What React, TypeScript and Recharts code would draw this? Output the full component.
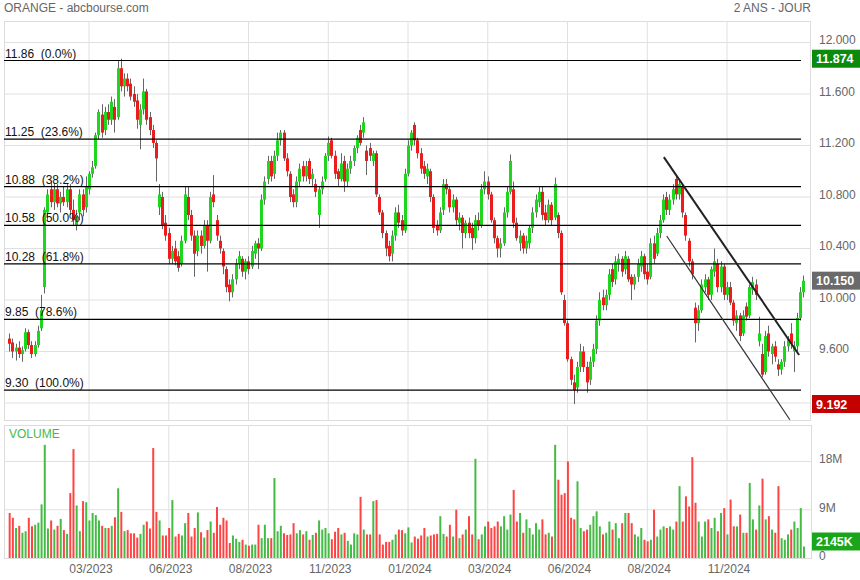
import React from "react";
import {
  ComposedChart,
  Bar,
  XAxis,
  YAxis,
  CartesianGrid,
  ReferenceLine,
  Cell,
} from "recharts";

const FONT = '"Liberation Sans", Arial, sans-serif';
const GREEN = "#1fd61f";
const RED = "#ec1c1c";
const VOL_GREEN = "#44bb44";
const VOL_RED = "#ff4343";
const GRID = "#e0e0e0";

// price series, one candle per two sessions
const opens = [
  9.70, 9.67, 9.60, 9.63, 9.58, 9.62, 9.75, 9.65, 9.58, 9.65,
  9.78, 10.10, 10.68, 10.86, 10.76, 10.86, 10.75, 10.80, 10.76, 10.86,
  10.70, 10.58, 10.68, 10.82, 10.72, 10.86, 10.98, 11.04, 11.28, 11.44,
  11.32, 11.46, 11.40, 11.50, 11.42, 11.80, 11.66, 11.72, 11.68, 11.60,
  11.55, 11.36, 11.48, 11.62, 11.42, 11.32, 11.22, 10.72, 10.80, 10.60,
  10.52, 10.32, 10.40, 10.34, 10.28, 10.46, 10.80, 10.66, 10.50, 10.38,
  10.50, 10.42, 10.58, 10.46, 10.82, 10.62, 10.46, 10.38, 10.24, 10.12,
  10.06, 10.16, 10.28, 10.32, 10.22, 10.30, 10.26, 10.36, 10.44, 10.40,
  10.78, 10.94, 11.08, 10.98, 11.12, 11.24, 11.30, 11.10, 10.98, 10.82,
  10.76, 10.92, 11.04, 10.96, 11.08, 10.94, 10.90, 10.66, 10.86, 10.94,
  11.12, 11.24, 11.12, 11.00, 10.94, 11.08, 10.92, 11.02, 11.08, 11.18,
  11.32, 11.30, 11.16, 11.18, 11.08, 11.14, 10.80, 10.68, 10.52, 10.42,
  10.36, 10.50, 10.68, 10.62, 10.54, 10.98, 11.20, 11.36, 11.24, 11.14,
  11.04, 10.96, 11.00, 10.80, 10.58, 10.54, 10.70, 10.90, 10.86, 10.72,
  10.78, 10.60, 10.64, 10.52, 10.60, 10.56, 10.48, 10.62, 10.58, 10.86,
  10.92, 10.82, 10.62, 10.48, 10.40, 10.44, 10.68, 10.84, 10.86, 10.60,
  10.44, 10.50, 10.40, 10.44, 10.56, 10.68, 10.76, 10.84, 10.68, 10.62,
  10.74, 10.64, 10.66, 10.52, 10.00, 9.82, 9.54, 9.36, 9.32, 9.48,
  9.60, 9.48, 9.38, 9.52, 9.62, 9.84, 10.02, 9.96, 10.04, 10.24,
  10.16, 10.28, 10.32, 10.24, 10.32, 10.18, 10.12, 10.18, 10.26, 10.34,
  10.22, 10.18, 10.44, 10.36, 10.52, 10.62, 10.80, 10.70, 10.78, 10.94,
  10.82, 10.88, 10.66, 10.46, 10.30, 9.94, 9.82, 9.92, 10.10, 10.16,
  10.04, 10.22, 10.28, 10.10, 10.26, 10.04, 10.10, 9.98, 9.82, 9.88,
  9.74, 9.95, 9.88, 10.08, 10.12, 9.68, 9.58, 9.44, 9.74, 9.58,
  9.64, 9.50, 9.46, 9.52, 9.64, 9.74, 9.60, 9.64, 9.86, 10.06,
];

const highs = [
  9.74, 9.70, 9.66, 9.68, 9.64, 9.78, 9.77, 9.68, 9.68, 9.80,
  10.04, 10.72, 10.86, 10.92, 10.90, 10.90, 10.84, 10.88, 10.90, 10.90,
  10.78, 10.70, 10.86, 10.86, 10.96, 11.00, 11.08, 11.30, 11.48, 11.52,
  11.50, 11.52, 11.58, 11.56, 11.86, 11.874, 11.76, 11.76, 11.72, 11.66,
  11.60, 11.52, 11.72, 11.64, 11.46, 11.36, 11.24, 10.90, 10.84, 10.66,
  10.56, 10.42, 10.46, 10.38, 10.50, 10.88, 10.88, 10.70, 10.54, 10.54,
  10.54, 10.62, 10.62, 10.84, 10.97, 10.66, 10.50, 10.40, 10.26, 10.16,
  10.20, 10.32, 10.38, 10.34, 10.32, 10.34, 10.42, 10.46, 10.48, 10.82,
  10.96, 11.12, 11.12, 11.16, 11.30, 11.32, 11.32, 11.14, 11.00, 10.86,
  10.96, 11.06, 11.08, 11.08, 11.10, 11.02, 10.94, 10.88, 10.96, 11.14,
  11.27, 11.26, 11.16, 11.02, 11.14, 11.12, 11.06, 11.12, 11.20, 11.28,
  11.36, 11.42, 11.20, 11.22, 11.16, 11.16, 10.82, 10.70, 10.54, 10.46,
  10.54, 10.72, 10.74, 10.66, 11.02, 11.24, 11.32, 11.38, 11.26, 11.18,
  11.08, 11.06, 11.02, 10.82, 10.62, 10.72, 10.94, 10.94, 10.88, 10.82,
  10.80, 10.68, 10.66, 10.62, 10.64, 10.60, 10.66, 10.68, 10.90, 11.00,
  10.96, 10.84, 10.64, 10.50, 10.48, 10.72, 10.88, 11.13, 10.92, 10.64,
  10.54, 10.52, 10.50, 10.58, 10.72, 10.82, 10.88, 10.88, 10.74, 10.78,
  10.76, 10.95, 10.68, 10.54, 10.04, 9.84, 9.56, 9.42, 9.52, 9.66,
  9.64, 9.52, 9.56, 9.66, 9.88, 10.06, 10.08, 10.08, 10.24, 10.28,
  10.34, 10.36, 10.34, 10.38, 10.34, 10.20, 10.20, 10.32, 10.38, 10.36,
  10.28, 10.48, 10.50, 10.56, 10.66, 10.82, 10.84, 10.82, 10.90, 10.97,
  10.94, 10.90, 10.68, 10.48, 10.32, 9.98, 9.96, 10.16, 10.20, 10.18,
  10.26, 10.40, 10.32, 10.30, 10.28, 10.14, 10.14, 10.00, 9.92, 9.90,
  9.92, 9.98, 10.12, 10.18, 10.16, 9.87, 9.66, 9.76, 9.80, 9.66,
  9.68, 9.54, 9.54, 9.68, 9.72, 9.82, 9.68, 9.90, 10.10, 10.19,
];

const lows = [
  9.60, 9.55, 9.53, 9.55, 9.52, 9.60, 9.62, 9.55, 9.56, 9.63,
  9.76, 10.05, 10.62, 10.72, 10.70, 10.72, 10.68, 10.73, 10.72, 10.66,
  10.58, 10.54, 10.62, 10.65, 10.68, 10.82, 10.95, 11.02, 11.25, 11.26,
  11.28, 11.36, 11.36, 11.30, 11.40, 11.62, 11.58, 11.62, 11.55, 11.50,
  11.33, 11.17, 11.44, 11.36, 11.28, 11.18, 10.92, 10.66, 10.55, 10.46,
  10.28, 10.28, 10.27, 10.22, 10.26, 10.44, 10.62, 10.46, 10.18, 10.34,
  10.36, 10.40, 10.22, 10.44, 10.72, 10.46, 10.36, 10.20, 10.06, 9.99,
  10.02, 10.12, 10.24, 10.18, 10.16, 10.20, 10.24, 10.32, 10.24, 10.38,
  10.74, 10.90, 10.92, 10.94, 11.08, 11.20, 11.08, 10.96, 10.76, 10.72,
  10.72, 10.88, 10.92, 10.92, 10.90, 10.88, 10.80, 10.56, 10.82, 10.92,
  11.08, 11.10, 10.94, 10.88, 10.92, 10.84, 10.88, 10.98, 11.04, 11.14,
  11.20, 11.26, 10.97, 11.08, 11.04, 10.80, 10.66, 10.48, 10.34, 10.30,
  10.30, 10.46, 10.56, 10.50, 10.52, 10.96, 11.16, 11.20, 11.10, 10.98,
  10.94, 10.90, 10.76, 10.52, 10.50, 10.52, 10.66, 10.82, 10.68, 10.68,
  10.58, 10.54, 10.40, 10.48, 10.48, 10.39, 10.44, 10.54, 10.56, 10.82,
  10.78, 10.60, 10.44, 10.33, 10.33, 10.42, 10.64, 10.82, 10.56, 10.46,
  10.38, 10.36, 10.36, 10.40, 10.52, 10.64, 10.72, 10.62, 10.58, 10.60,
  10.58, 10.62, 10.48, 10.04, 9.80, 9.52, 9.34, 9.192, 9.28, 9.44,
  9.44, 9.28, 9.34, 9.48, 9.58, 9.80, 9.92, 9.92, 10.00, 10.10,
  10.12, 10.22, 10.18, 10.20, 10.14, 10.00, 10.08, 10.14, 10.22, 10.16,
  10.12, 10.16, 10.28, 10.34, 10.48, 10.60, 10.66, 10.66, 10.74, 10.78,
  10.78, 10.64, 10.46, 10.26, 10.16, 9.67, 9.76, 9.90, 10.06, 10.00,
  10.00, 10.18, 10.06, 10.06, 10.00, 10.00, 9.96, 9.80, 9.76, 9.68,
  9.72, 9.84, 9.86, 10.04, 10.00, 9.64, 9.40, 9.42, 9.56, 9.50,
  9.52, 9.41, 9.42, 9.48, 9.60, 9.62, 9.44, 9.60, 9.84, 10.02,
];

const closes = [
  9.66, 9.60, 9.63, 9.58, 9.61, 9.75, 9.65, 9.58, 9.65, 9.76,
  9.92, 10.70, 10.82, 10.76, 10.86, 10.75, 10.80, 10.76, 10.86, 10.70,
  10.62, 10.66, 10.82, 10.70, 10.88, 10.98, 11.03, 11.28, 11.46, 11.30,
  11.46, 11.40, 11.54, 11.40, 11.80, 11.66, 11.72, 11.66, 11.58, 11.54,
  11.40, 11.48, 11.62, 11.40, 11.32, 11.22, 11.10, 10.82, 10.58, 10.50,
  10.32, 10.38, 10.30, 10.25, 10.46, 10.82, 10.66, 10.50, 10.36, 10.50,
  10.42, 10.58, 10.46, 10.80, 10.76, 10.50, 10.40, 10.26, 10.10, 10.06,
  10.16, 10.28, 10.34, 10.22, 10.30, 10.24, 10.38, 10.44, 10.40, 10.78,
  10.92, 11.08, 10.96, 11.12, 11.24, 11.30, 11.10, 11.00, 10.80, 10.76,
  10.92, 11.02, 10.96, 11.04, 10.94, 10.98, 10.84, 10.86, 10.92, 11.12,
  11.22, 11.12, 10.98, 10.94, 11.06, 10.92, 11.02, 11.08, 11.18, 11.26,
  11.22, 11.38, 11.08, 11.12, 11.14, 10.82, 10.68, 10.52, 10.40, 10.34,
  10.50, 10.68, 10.60, 10.54, 10.98, 11.20, 11.30, 11.24, 11.14, 11.02,
  10.98, 11.02, 10.80, 10.56, 10.54, 10.68, 10.90, 10.86, 10.72, 10.78,
  10.62, 10.64, 10.52, 10.60, 10.52, 10.48, 10.62, 10.58, 10.86, 10.92,
  10.82, 10.62, 10.48, 10.40, 10.44, 10.68, 10.84, 11.08, 10.60, 10.48,
  10.50, 10.40, 10.46, 10.56, 10.68, 10.78, 10.84, 10.66, 10.62, 10.74,
  10.62, 10.90, 10.52, 10.06, 9.82, 9.54, 9.38, 9.30, 9.48, 9.60,
  9.48, 9.36, 9.52, 9.62, 9.84, 10.00, 9.96, 10.04, 10.20, 10.14,
  10.30, 10.32, 10.22, 10.34, 10.16, 10.12, 10.18, 10.28, 10.34, 10.20,
  10.16, 10.44, 10.32, 10.52, 10.62, 10.78, 10.70, 10.78, 10.86, 10.82,
  10.90, 10.68, 10.50, 10.30, 10.20, 9.82, 9.92, 10.12, 10.16, 10.04,
  10.24, 10.30, 10.10, 10.26, 10.04, 10.10, 9.98, 9.84, 9.88, 9.72,
  9.88, 9.87, 10.10, 10.14, 10.04, 9.74, 9.42, 9.72, 9.60, 9.64,
  9.56, 9.46, 9.52, 9.64, 9.70, 9.66, 9.64, 9.86, 10.06, 10.15,
];

// volume in millions of shares
const volumes = [
  8.4, 7.5, 5.6, 6.0, 4.7, 5.0, 7.5, 5.9, 6.2, 6.6,
  10.0, 21.1, 5.5, 7.0, 5.3, 6.0, 7.3, 5.2, 4.5, 12.1,
  20.3, 9.8, 5.0, 10.6, 10.4, 7.0, 8.4, 8.0, 7.0, 6.0,
  5.6, 5.6, 6.0, 7.6, 13.0, 8.6, 5.0, 5.2, 4.6, 4.6,
  3.8, 4.5, 6.2, 6.8, 5.5, 20.5, 8.6, 7.0, 4.2, 4.2,
  5.6, 10.8, 4.0, 4.5, 4.2, 6.5, 8.4, 4.0, 5.6, 8.5,
  4.8, 3.8, 5.2, 6.8, 4.7, 9.5, 6.2, 7.5, 7.0, 2.8,
  4.2, 3.6, 3.0, 3.4, 2.5, 2.3, 2.5, 2.5, 6.2, 3.7,
  6.2, 3.7, 3.7, 14.9, 5.0, 6.0, 4.6, 4.3, 4.4, 6.5,
  4.6, 5.2, 4.4, 5.0, 3.4, 4.3, 4.7, 7.0, 5.3, 5.6,
  4.6, 3.5, 4.9, 5.6, 4.4, 4.7, 3.2, 2.5, 4.6, 4.4,
  11.4, 5.3, 4.4, 4.4, 10.6, 10.8, 4.4, 2.5, 3.0, 3.0,
  3.4, 4.4, 5.3, 5.2, 4.6, 5.7, 2.9, 4.0, 3.6, 4.2,
  5.6, 4.0, 4.2, 4.4, 4.5, 7.8, 4.5, 4.0, 6.2, 4.0,
  9.0, 3.7, 4.4, 5.3, 7.8, 4.4, 18.5, 3.5, 4.4, 5.9,
  6.8, 5.6, 5.9, 6.8, 5.9, 7.8, 5.3, 8.1, 12.7, 6.8,
  8.4, 4.7, 7.2, 5.6, 4.4, 6.5, 5.3, 7.2, 4.4, 4.7,
  4.0, 21.1, 14.6, 11.8, 12.1, 18.0, 7.5, 7.2, 14.3, 5.6,
  5.0, 5.3, 6.2, 7.8, 8.7, 5.9, 4.4, 4.7, 6.8, 5.3,
  6.5, 3.7, 6.5, 8.4, 8.4, 6.5, 4.4, 4.0, 5.6, 3.4,
  3.1, 3.4, 9.0, 4.0, 5.3, 5.9, 5.6, 5.9, 5.3, 6.8,
  13.4, 6.8, 11.5, 9.6, 18.8, 10.3, 6.8, 4.0, 6.8, 7.2,
  5.6, 7.5, 5.0, 8.4, 9.3, 4.4, 10.9, 5.9, 5.9, 8.1,
  4.7, 4.7, 14.0, 7.2, 5.3, 9.8, 14.8, 7.2, 7.8, 5.3,
  4.7, 13.4, 3.7, 3.4, 4.4, 5.3, 6.8, 5.6, 9.3, 2.145,
];

const dateTicks = [25, 50, 75, 100, 125, 150, 175, 200, 225];
const dateLabels = [
  "03/2023", "06/2023", "08/2023", "11/2023", "01/2024",
  "03/2024", "06/2024", "08/2024", "11/2024",
];
const priceTicks = [9.2, 9.6, 10.0, 10.4, 10.8, 11.2, 11.6, 12.0];
const volumeTicks = [0, 9, 18];

const fibLevels = [11.86, 11.25, 10.88, 10.58, 10.28, 9.85, 9.3];
const fibPercents = ["0.0%", "23.6%", "38.2%", "50.0%", "61.8%", "78.6%", "100.0%"];

// hand-drawn channel
const upperTrend = [{ x: 205.2, y: 11.11 }, { x: 247.6, y: 9.573 }];
const lowerTrend = [{ x: 206.1, y: 10.497 }, { x: 244.7, y: 9.07 }];

const periodHigh = 11.874;
const periodLow = 9.192;
const lastClose = 10.15;
const lastVolume = 2.145;

const X_DOMAIN = [-1.65, 251.33];
const FIB_END = 248.2;
const PRICE_DOMAIN = [9.06, 12.167];
const VOLUME_DOMAIN = [0, 24.8];

const candles = closes.map((c, i) => ({
  i,
  o: opens[i],
  h: highs[i],
  l: lows[i],
  c,
  range: [lows[i], highs[i]],
  v: volumes[i],
}));

const Candle = (props: any) => {
  let { x, y, width, height } = props;
  const { o, h, l, c } = props.payload;
  if (height < 0) {
    y += height;
    height = -height;
  }
  const k = height / (h - l || 1);
  const cx = Math.round(x + width / 2) + 0.5;
  const yo = y + (h - o) * k;
  const yc = y + (h - c) * k;
  const top = Math.min(yo, yc);
  const bh = Math.max(Math.abs(yo - yc), 1);
  return (
    <g>
      <line x1={cx} x2={cx} y1={y} y2={y + height} stroke="#666" strokeWidth={1} />
      <rect x={cx - 1.5} y={top} width={3} height={bh} fill={c >= o ? GREEN : RED} />
    </g>
  );
};

const fibLabel = (text: string) => (props: any) => {
  const vb = props.viewBox;
  return (
    <text
      x={vb.x + 1}
      y={vb.y - 3}
      fontSize={12}
      fill="#111"
      fontFamily={FONT}
      xmlSpace="preserve"
      style={{ whiteSpace: "pre" }}
    >
      {text}
    </text>
  );
};

const valueBox = (text: string, bg: string, shift = 0) => (props: any) => {
  const vb = props.viewBox;
  const x = vb.x + vb.width;
  const y = vb.y + shift;
  return (
    <g>
      <rect x={x + 1} y={y - 9} width={48} height={18} fill={bg} />
      <text x={x + 5} y={y + 4.5} fill="#fff" fontSize={12.5} fontWeight="bold" fontFamily={FONT}>
        {text}
      </text>
    </g>
  );
};

const rightTick = (fmt: (v: number) => string) => (props: any) => (
  <text x={props.x} y={props.y + 2} fill="#666" fontSize={12} fontFamily={FONT} textAnchor="start">
    {fmt(props.payload.value)}
  </text>
);

const dateTick = (props: any) => {
  const k = dateTicks.indexOf(props.payload.value);
  return (
    <text x={props.x + 2} y={props.y + 7} fill="#666" fontSize={12} fontFamily={FONT} textAnchor="middle">
      {k >= 0 ? dateLabels[k] : ""}
    </text>
  );
};

const abs = (s: React.CSSProperties): React.CSSProperties => ({ position: "absolute", ...s });

export default function App() {
  return (
    <div style={abs({ left: 0, top: 0, width: 860, height: 580, background: "#fff", overflow: "hidden", fontFamily: FONT })}>
      <div style={abs({ left: 4, top: 21, width: 807, height: 400, border: "1px solid #dcdcdc", boxSizing: "border-box" })} />
      <div style={abs({ left: 4, top: 425, width: 808, height: 134, border: "1px solid #dcdcdc", boxSizing: "border-box" })} />
      <div style={abs({ left: 4, top: 1, fontSize: 12, color: "#666" })}>ORANGE - abcbourse.com</div>
      <div style={abs({ right: 49, top: 1, fontSize: 12, color: "#666" })}>2 ANS - JOUR</div>
      <div style={abs({ left: 9, top: 427, fontSize: 12, color: "#44bb44" })}>VOLUME</div>

      <div style={abs({ left: 0, top: 0 })}>
        <ComposedChart width={860} height={430} data={candles} margin={{ top: 21, right: 0, left: 4, bottom: 9 }}>
          <CartesianGrid stroke={GRID} verticalValues={dateTicks} horizontalValues={priceTicks} />
          <XAxis type="number" dataKey="i" domain={X_DOMAIN} allowDataOverflow hide />
          <YAxis
            orientation="right"
            width={49}
            type="number"
            domain={PRICE_DOMAIN}
            allowDataOverflow
            ticks={priceTicks}
            axisLine={false}
            tickLine={false}
            tick={rightTick((v) => v.toFixed(3))}
          />
          <Bar dataKey="range" barSize={3} shape={<Candle />} isAnimationActive={false} />
          {fibLevels.map((lvl, k) => (
            <ReferenceLine
              key={lvl}
              segment={[{ x: X_DOMAIN[0], y: lvl }, { x: FIB_END, y: lvl }]}
              stroke="#000"
              strokeWidth={1.2}
              label={fibLabel(`${lvl.toFixed(2)}  (${fibPercents[k]})`)}
            />
          ))}
          <ReferenceLine segment={upperTrend} stroke="#222" strokeWidth={2} />
          <ReferenceLine segment={lowerTrend} stroke="#333" strokeWidth={1.2} />
        </ComposedChart>
      </div>

      {/* value tags drawn on their own layer so they sit above the axis labels */}
      <div style={abs({ left: 0, top: 0 })}>
        <ComposedChart width={860} height={430} data={candles} margin={{ top: 21, right: 49, left: 4, bottom: 9 }}>
          <XAxis type="number" dataKey="i" domain={X_DOMAIN} allowDataOverflow hide />
          <YAxis type="number" domain={PRICE_DOMAIN} allowDataOverflow hide />
          <ReferenceLine y={periodHigh} stroke="none" label={valueBox(periodHigh.toFixed(3), "#0c8a0c")} />
          <ReferenceLine y={lastClose} stroke="none" label={valueBox(lastClose.toFixed(3), "#6a6a6a")} />
          <ReferenceLine y={periodLow} stroke="none" label={valueBox(periodLow.toFixed(3), "#c40000")} />
        </ComposedChart>
      </div>

      <div style={abs({ left: 0, top: 0 })}>
        <ComposedChart width={860} height={580} data={candles} margin={{ top: 425, right: 0, left: 4, bottom: 0 }}>
          <CartesianGrid stroke={GRID} verticalValues={dateTicks} horizontalValues={[9, 18]} />
          <XAxis
            type="number"
            dataKey="i"
            domain={X_DOMAIN}
            allowDataOverflow
            ticks={dateTicks}
            height={22}
            axisLine={false}
            tickLine={false}
            tick={dateTick}
          />
          <YAxis
            orientation="right"
            width={49}
            type="number"
            domain={VOLUME_DOMAIN}
            allowDataOverflow
            ticks={volumeTicks}
            axisLine={false}
            tickLine={false}
            tick={rightTick((v) => (v === 0 ? "0" : `${v}M`))}
          />
          <Bar dataKey="v" barSize={2} isAnimationActive={false}>
            {candles.map((d) => (
              <Cell key={d.i} fill={d.c >= d.o ? VOL_GREEN : VOL_RED} />
            ))}
          </Bar>
          <ReferenceLine y={lastVolume} stroke="none" label={valueBox(`${Math.round(lastVolume * 1000)}K`, "#1aa51a", -5)} />
        </ComposedChart>
      </div>
    </div>
  );
}
